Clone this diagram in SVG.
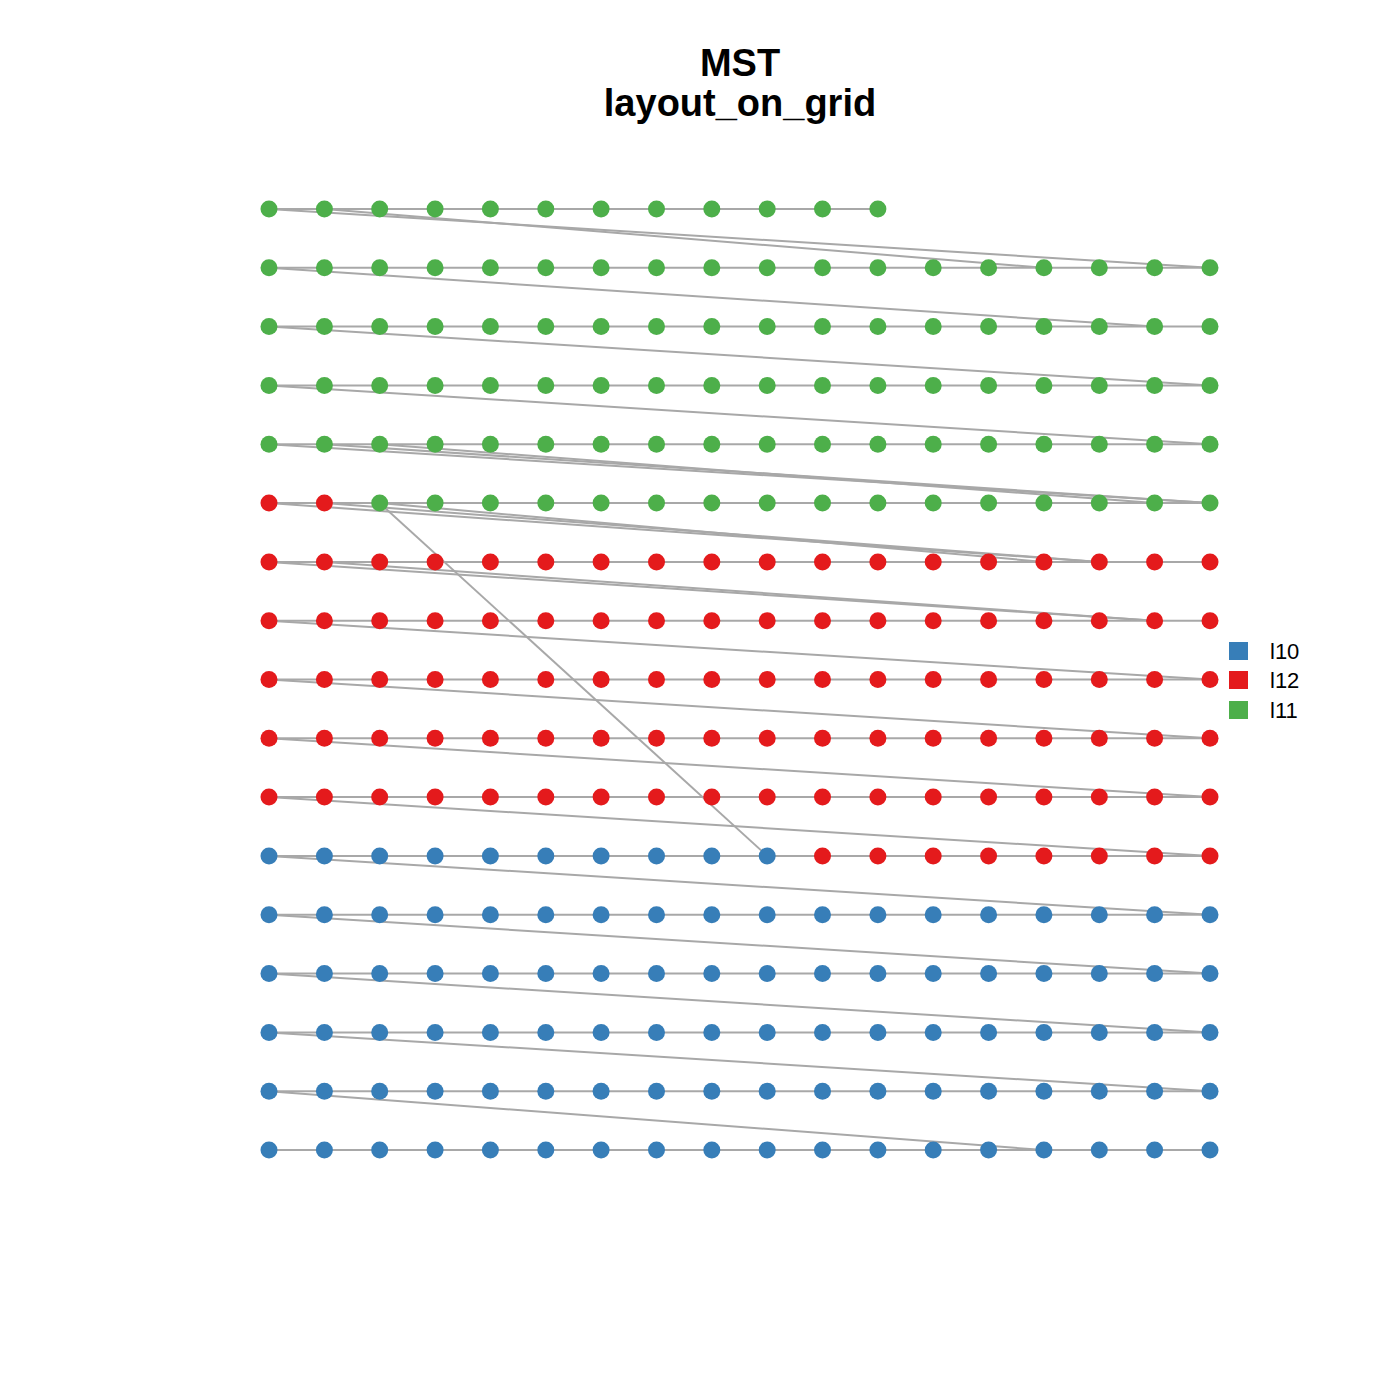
<svg xmlns="http://www.w3.org/2000/svg" width="1400" height="1400" viewBox="0 0 1400 1400">
<style>
.e{stroke:#A8A8A8;stroke-width:2;fill:none}
.g{fill:#4DAF4A}.r{fill:#E41A1C}.b{fill:#377EB8}
.t{font-family:"Liberation Sans",Arial,sans-serif;font-weight:bold;font-size:38px;text-anchor:middle;fill:#000}
.l{font-family:"Liberation Sans",Arial,sans-serif;font-size:22px;fill:#000}
</style>
<rect width="1400" height="1400" fill="#fff"/>
<text class="t" x="740" y="76">MST</text>
<text class="t" x="740" y="116">layout_on_grid</text>
<g id="connectors">
<line class="e" x1="269" y1="209" x2="877.9" y2="209"/>
<line class="e" x1="269" y1="267.8" x2="1210" y2="267.8"/>
<line class="e" x1="269" y1="326.6" x2="1210" y2="326.6"/>
<line class="e" x1="269" y1="385.4" x2="1210" y2="385.4"/>
<line class="e" x1="269" y1="444.3" x2="1210" y2="444.3"/>
<line class="e" x1="269" y1="503.1" x2="1210" y2="503.1"/>
<line class="e" x1="269" y1="561.9" x2="1210" y2="561.9"/>
<line class="e" x1="269" y1="620.7" x2="1210" y2="620.7"/>
<line class="e" x1="269" y1="679.5" x2="1210" y2="679.5"/>
<line class="e" x1="269" y1="738.3" x2="1210" y2="738.3"/>
<line class="e" x1="269" y1="797.1" x2="1210" y2="797.1"/>
<line class="e" x1="269" y1="855.9" x2="1210" y2="855.9"/>
<line class="e" x1="269" y1="914.8" x2="1210" y2="914.8"/>
<line class="e" x1="269" y1="973.6" x2="1210" y2="973.6"/>
<line class="e" x1="269" y1="1032.4" x2="1210" y2="1032.4"/>
<line class="e" x1="269" y1="1091.2" x2="1210" y2="1091.2"/>
<line class="e" x1="269" y1="1150" x2="1210" y2="1150"/>
<line class="e" x1="269" y1="209" x2="1210" y2="267.8"/>
<line class="e" x1="324.4" y1="209" x2="1043.9" y2="267.8"/>
<line class="e" x1="269" y1="267.8" x2="1154.6" y2="326.6"/>
<line class="e" x1="269" y1="326.6" x2="1210" y2="385.4"/>
<line class="e" x1="269" y1="385.4" x2="1210" y2="444.3"/>
<line class="e" x1="269" y1="444.3" x2="1210" y2="503.1"/>
<line class="e" x1="324.4" y1="444.3" x2="1210" y2="503.1"/>
<line class="e" x1="379.7" y1="444.3" x2="1154.6" y2="503.1"/>
<line class="e" x1="269" y1="503.1" x2="1099.3" y2="561.9"/>
<line class="e" x1="324.4" y1="503.1" x2="1099.3" y2="561.9"/>
<line class="e" x1="379.7" y1="503.1" x2="1043.9" y2="561.9"/>
<line class="e" x1="379.7" y1="503.1" x2="767.2" y2="855.9"/>
<line class="e" x1="269" y1="561.9" x2="1154.6" y2="620.7"/>
<line class="e" x1="324.4" y1="561.9" x2="1154.6" y2="620.7"/>
<line class="e" x1="269" y1="620.7" x2="1210" y2="679.5"/>
<line class="e" x1="269" y1="679.5" x2="1210" y2="738.3"/>
<line class="e" x1="269" y1="738.3" x2="1210" y2="797.1"/>
<line class="e" x1="269" y1="797.1" x2="1210" y2="855.9"/>
<line class="e" x1="269" y1="855.9" x2="1210" y2="914.8"/>
<line class="e" x1="269" y1="914.8" x2="1210" y2="973.6"/>
<line class="e" x1="269" y1="973.6" x2="1210" y2="1032.4"/>
<line class="e" x1="269" y1="1032.4" x2="1210" y2="1091.2"/>
<line class="e" x1="269" y1="1091.2" x2="1043.9" y2="1150"/>
</g>
<g id="nodes">
<g id="n0_0"><circle class="g" cx="269" cy="209" r="8.5"/></g>
<g id="n0_1"><circle class="g" cx="324.4" cy="209" r="8.5"/></g>
<g id="n0_2"><circle class="g" cx="379.7" cy="209" r="8.5"/></g>
<g id="n0_3"><circle class="g" cx="435.1" cy="209" r="8.5"/></g>
<g id="n0_4"><circle class="g" cx="490.4" cy="209" r="8.5"/></g>
<g id="n0_5"><circle class="g" cx="545.8" cy="209" r="8.5"/></g>
<g id="n0_6"><circle class="g" cx="601.1" cy="209" r="8.5"/></g>
<g id="n0_7"><circle class="g" cx="656.5" cy="209" r="8.5"/></g>
<g id="n0_8"><circle class="g" cx="711.8" cy="209" r="8.5"/></g>
<g id="n0_9"><circle class="g" cx="767.2" cy="209" r="8.5"/></g>
<g id="n0_10"><circle class="g" cx="822.5" cy="209" r="8.5"/></g>
<g id="n0_11"><circle class="g" cx="877.9" cy="209" r="8.5"/></g>
<g id="n1_0"><circle class="g" cx="269" cy="267.8" r="8.5"/></g>
<g id="n1_1"><circle class="g" cx="324.4" cy="267.8" r="8.5"/></g>
<g id="n1_2"><circle class="g" cx="379.7" cy="267.8" r="8.5"/></g>
<g id="n1_3"><circle class="g" cx="435.1" cy="267.8" r="8.5"/></g>
<g id="n1_4"><circle class="g" cx="490.4" cy="267.8" r="8.5"/></g>
<g id="n1_5"><circle class="g" cx="545.8" cy="267.8" r="8.5"/></g>
<g id="n1_6"><circle class="g" cx="601.1" cy="267.8" r="8.5"/></g>
<g id="n1_7"><circle class="g" cx="656.5" cy="267.8" r="8.5"/></g>
<g id="n1_8"><circle class="g" cx="711.8" cy="267.8" r="8.5"/></g>
<g id="n1_9"><circle class="g" cx="767.2" cy="267.8" r="8.5"/></g>
<g id="n1_10"><circle class="g" cx="822.5" cy="267.8" r="8.5"/></g>
<g id="n1_11"><circle class="g" cx="877.9" cy="267.8" r="8.5"/></g>
<g id="n1_12"><circle class="g" cx="933.2" cy="267.8" r="8.5"/></g>
<g id="n1_13"><circle class="g" cx="988.6" cy="267.8" r="8.5"/></g>
<g id="n1_14"><circle class="g" cx="1043.9" cy="267.8" r="8.5"/></g>
<g id="n1_15"><circle class="g" cx="1099.3" cy="267.8" r="8.5"/></g>
<g id="n1_16"><circle class="g" cx="1154.6" cy="267.8" r="8.5"/></g>
<g id="n1_17"><circle class="g" cx="1210" cy="267.8" r="8.5"/></g>
<g id="n2_0"><circle class="g" cx="269" cy="326.6" r="8.5"/></g>
<g id="n2_1"><circle class="g" cx="324.4" cy="326.6" r="8.5"/></g>
<g id="n2_2"><circle class="g" cx="379.7" cy="326.6" r="8.5"/></g>
<g id="n2_3"><circle class="g" cx="435.1" cy="326.6" r="8.5"/></g>
<g id="n2_4"><circle class="g" cx="490.4" cy="326.6" r="8.5"/></g>
<g id="n2_5"><circle class="g" cx="545.8" cy="326.6" r="8.5"/></g>
<g id="n2_6"><circle class="g" cx="601.1" cy="326.6" r="8.5"/></g>
<g id="n2_7"><circle class="g" cx="656.5" cy="326.6" r="8.5"/></g>
<g id="n2_8"><circle class="g" cx="711.8" cy="326.6" r="8.5"/></g>
<g id="n2_9"><circle class="g" cx="767.2" cy="326.6" r="8.5"/></g>
<g id="n2_10"><circle class="g" cx="822.5" cy="326.6" r="8.5"/></g>
<g id="n2_11"><circle class="g" cx="877.9" cy="326.6" r="8.5"/></g>
<g id="n2_12"><circle class="g" cx="933.2" cy="326.6" r="8.5"/></g>
<g id="n2_13"><circle class="g" cx="988.6" cy="326.6" r="8.5"/></g>
<g id="n2_14"><circle class="g" cx="1043.9" cy="326.6" r="8.5"/></g>
<g id="n2_15"><circle class="g" cx="1099.3" cy="326.6" r="8.5"/></g>
<g id="n2_16"><circle class="g" cx="1154.6" cy="326.6" r="8.5"/></g>
<g id="n2_17"><circle class="g" cx="1210" cy="326.6" r="8.5"/></g>
<g id="n3_0"><circle class="g" cx="269" cy="385.4" r="8.5"/></g>
<g id="n3_1"><circle class="g" cx="324.4" cy="385.4" r="8.5"/></g>
<g id="n3_2"><circle class="g" cx="379.7" cy="385.4" r="8.5"/></g>
<g id="n3_3"><circle class="g" cx="435.1" cy="385.4" r="8.5"/></g>
<g id="n3_4"><circle class="g" cx="490.4" cy="385.4" r="8.5"/></g>
<g id="n3_5"><circle class="g" cx="545.8" cy="385.4" r="8.5"/></g>
<g id="n3_6"><circle class="g" cx="601.1" cy="385.4" r="8.5"/></g>
<g id="n3_7"><circle class="g" cx="656.5" cy="385.4" r="8.5"/></g>
<g id="n3_8"><circle class="g" cx="711.8" cy="385.4" r="8.5"/></g>
<g id="n3_9"><circle class="g" cx="767.2" cy="385.4" r="8.5"/></g>
<g id="n3_10"><circle class="g" cx="822.5" cy="385.4" r="8.5"/></g>
<g id="n3_11"><circle class="g" cx="877.9" cy="385.4" r="8.5"/></g>
<g id="n3_12"><circle class="g" cx="933.2" cy="385.4" r="8.5"/></g>
<g id="n3_13"><circle class="g" cx="988.6" cy="385.4" r="8.5"/></g>
<g id="n3_14"><circle class="g" cx="1043.9" cy="385.4" r="8.5"/></g>
<g id="n3_15"><circle class="g" cx="1099.3" cy="385.4" r="8.5"/></g>
<g id="n3_16"><circle class="g" cx="1154.6" cy="385.4" r="8.5"/></g>
<g id="n3_17"><circle class="g" cx="1210" cy="385.4" r="8.5"/></g>
<g id="n4_0"><circle class="g" cx="269" cy="444.3" r="8.5"/></g>
<g id="n4_1"><circle class="g" cx="324.4" cy="444.3" r="8.5"/></g>
<g id="n4_2"><circle class="g" cx="379.7" cy="444.3" r="8.5"/></g>
<g id="n4_3"><circle class="g" cx="435.1" cy="444.3" r="8.5"/></g>
<g id="n4_4"><circle class="g" cx="490.4" cy="444.3" r="8.5"/></g>
<g id="n4_5"><circle class="g" cx="545.8" cy="444.3" r="8.5"/></g>
<g id="n4_6"><circle class="g" cx="601.1" cy="444.3" r="8.5"/></g>
<g id="n4_7"><circle class="g" cx="656.5" cy="444.3" r="8.5"/></g>
<g id="n4_8"><circle class="g" cx="711.8" cy="444.3" r="8.5"/></g>
<g id="n4_9"><circle class="g" cx="767.2" cy="444.3" r="8.5"/></g>
<g id="n4_10"><circle class="g" cx="822.5" cy="444.3" r="8.5"/></g>
<g id="n4_11"><circle class="g" cx="877.9" cy="444.3" r="8.5"/></g>
<g id="n4_12"><circle class="g" cx="933.2" cy="444.3" r="8.5"/></g>
<g id="n4_13"><circle class="g" cx="988.6" cy="444.3" r="8.5"/></g>
<g id="n4_14"><circle class="g" cx="1043.9" cy="444.3" r="8.5"/></g>
<g id="n4_15"><circle class="g" cx="1099.3" cy="444.3" r="8.5"/></g>
<g id="n4_16"><circle class="g" cx="1154.6" cy="444.3" r="8.5"/></g>
<g id="n4_17"><circle class="g" cx="1210" cy="444.3" r="8.5"/></g>
<g id="n5_0"><circle class="r" cx="269" cy="503.1" r="8.5"/></g>
<g id="n5_1"><circle class="r" cx="324.4" cy="503.1" r="8.5"/></g>
<g id="n5_2"><circle class="g" cx="379.7" cy="503.1" r="8.5"/></g>
<g id="n5_3"><circle class="g" cx="435.1" cy="503.1" r="8.5"/></g>
<g id="n5_4"><circle class="g" cx="490.4" cy="503.1" r="8.5"/></g>
<g id="n5_5"><circle class="g" cx="545.8" cy="503.1" r="8.5"/></g>
<g id="n5_6"><circle class="g" cx="601.1" cy="503.1" r="8.5"/></g>
<g id="n5_7"><circle class="g" cx="656.5" cy="503.1" r="8.5"/></g>
<g id="n5_8"><circle class="g" cx="711.8" cy="503.1" r="8.5"/></g>
<g id="n5_9"><circle class="g" cx="767.2" cy="503.1" r="8.5"/></g>
<g id="n5_10"><circle class="g" cx="822.5" cy="503.1" r="8.5"/></g>
<g id="n5_11"><circle class="g" cx="877.9" cy="503.1" r="8.5"/></g>
<g id="n5_12"><circle class="g" cx="933.2" cy="503.1" r="8.5"/></g>
<g id="n5_13"><circle class="g" cx="988.6" cy="503.1" r="8.5"/></g>
<g id="n5_14"><circle class="g" cx="1043.9" cy="503.1" r="8.5"/></g>
<g id="n5_15"><circle class="g" cx="1099.3" cy="503.1" r="8.5"/></g>
<g id="n5_16"><circle class="g" cx="1154.6" cy="503.1" r="8.5"/></g>
<g id="n5_17"><circle class="g" cx="1210" cy="503.1" r="8.5"/></g>
<g id="n6_0"><circle class="r" cx="269" cy="561.9" r="8.5"/></g>
<g id="n6_1"><circle class="r" cx="324.4" cy="561.9" r="8.5"/></g>
<g id="n6_2"><circle class="r" cx="379.7" cy="561.9" r="8.5"/></g>
<g id="n6_3"><circle class="r" cx="435.1" cy="561.9" r="8.5"/></g>
<g id="n6_4"><circle class="r" cx="490.4" cy="561.9" r="8.5"/></g>
<g id="n6_5"><circle class="r" cx="545.8" cy="561.9" r="8.5"/></g>
<g id="n6_6"><circle class="r" cx="601.1" cy="561.9" r="8.5"/></g>
<g id="n6_7"><circle class="r" cx="656.5" cy="561.9" r="8.5"/></g>
<g id="n6_8"><circle class="r" cx="711.8" cy="561.9" r="8.5"/></g>
<g id="n6_9"><circle class="r" cx="767.2" cy="561.9" r="8.5"/></g>
<g id="n6_10"><circle class="r" cx="822.5" cy="561.9" r="8.5"/></g>
<g id="n6_11"><circle class="r" cx="877.9" cy="561.9" r="8.5"/></g>
<g id="n6_12"><circle class="r" cx="933.2" cy="561.9" r="8.5"/></g>
<g id="n6_13"><circle class="r" cx="988.6" cy="561.9" r="8.5"/></g>
<g id="n6_14"><circle class="r" cx="1043.9" cy="561.9" r="8.5"/></g>
<g id="n6_15"><circle class="r" cx="1099.3" cy="561.9" r="8.5"/></g>
<g id="n6_16"><circle class="r" cx="1154.6" cy="561.9" r="8.5"/></g>
<g id="n6_17"><circle class="r" cx="1210" cy="561.9" r="8.5"/></g>
<g id="n7_0"><circle class="r" cx="269" cy="620.7" r="8.5"/></g>
<g id="n7_1"><circle class="r" cx="324.4" cy="620.7" r="8.5"/></g>
<g id="n7_2"><circle class="r" cx="379.7" cy="620.7" r="8.5"/></g>
<g id="n7_3"><circle class="r" cx="435.1" cy="620.7" r="8.5"/></g>
<g id="n7_4"><circle class="r" cx="490.4" cy="620.7" r="8.5"/></g>
<g id="n7_5"><circle class="r" cx="545.8" cy="620.7" r="8.5"/></g>
<g id="n7_6"><circle class="r" cx="601.1" cy="620.7" r="8.5"/></g>
<g id="n7_7"><circle class="r" cx="656.5" cy="620.7" r="8.5"/></g>
<g id="n7_8"><circle class="r" cx="711.8" cy="620.7" r="8.5"/></g>
<g id="n7_9"><circle class="r" cx="767.2" cy="620.7" r="8.5"/></g>
<g id="n7_10"><circle class="r" cx="822.5" cy="620.7" r="8.5"/></g>
<g id="n7_11"><circle class="r" cx="877.9" cy="620.7" r="8.5"/></g>
<g id="n7_12"><circle class="r" cx="933.2" cy="620.7" r="8.5"/></g>
<g id="n7_13"><circle class="r" cx="988.6" cy="620.7" r="8.5"/></g>
<g id="n7_14"><circle class="r" cx="1043.9" cy="620.7" r="8.5"/></g>
<g id="n7_15"><circle class="r" cx="1099.3" cy="620.7" r="8.5"/></g>
<g id="n7_16"><circle class="r" cx="1154.6" cy="620.7" r="8.5"/></g>
<g id="n7_17"><circle class="r" cx="1210" cy="620.7" r="8.5"/></g>
<g id="n8_0"><circle class="r" cx="269" cy="679.5" r="8.5"/></g>
<g id="n8_1"><circle class="r" cx="324.4" cy="679.5" r="8.5"/></g>
<g id="n8_2"><circle class="r" cx="379.7" cy="679.5" r="8.5"/></g>
<g id="n8_3"><circle class="r" cx="435.1" cy="679.5" r="8.5"/></g>
<g id="n8_4"><circle class="r" cx="490.4" cy="679.5" r="8.5"/></g>
<g id="n8_5"><circle class="r" cx="545.8" cy="679.5" r="8.5"/></g>
<g id="n8_6"><circle class="r" cx="601.1" cy="679.5" r="8.5"/></g>
<g id="n8_7"><circle class="r" cx="656.5" cy="679.5" r="8.5"/></g>
<g id="n8_8"><circle class="r" cx="711.8" cy="679.5" r="8.5"/></g>
<g id="n8_9"><circle class="r" cx="767.2" cy="679.5" r="8.5"/></g>
<g id="n8_10"><circle class="r" cx="822.5" cy="679.5" r="8.5"/></g>
<g id="n8_11"><circle class="r" cx="877.9" cy="679.5" r="8.5"/></g>
<g id="n8_12"><circle class="r" cx="933.2" cy="679.5" r="8.5"/></g>
<g id="n8_13"><circle class="r" cx="988.6" cy="679.5" r="8.5"/></g>
<g id="n8_14"><circle class="r" cx="1043.9" cy="679.5" r="8.5"/></g>
<g id="n8_15"><circle class="r" cx="1099.3" cy="679.5" r="8.5"/></g>
<g id="n8_16"><circle class="r" cx="1154.6" cy="679.5" r="8.5"/></g>
<g id="n8_17"><circle class="r" cx="1210" cy="679.5" r="8.5"/></g>
<g id="n9_0"><circle class="r" cx="269" cy="738.3" r="8.5"/></g>
<g id="n9_1"><circle class="r" cx="324.4" cy="738.3" r="8.5"/></g>
<g id="n9_2"><circle class="r" cx="379.7" cy="738.3" r="8.5"/></g>
<g id="n9_3"><circle class="r" cx="435.1" cy="738.3" r="8.5"/></g>
<g id="n9_4"><circle class="r" cx="490.4" cy="738.3" r="8.5"/></g>
<g id="n9_5"><circle class="r" cx="545.8" cy="738.3" r="8.5"/></g>
<g id="n9_6"><circle class="r" cx="601.1" cy="738.3" r="8.5"/></g>
<g id="n9_7"><circle class="r" cx="656.5" cy="738.3" r="8.5"/></g>
<g id="n9_8"><circle class="r" cx="711.8" cy="738.3" r="8.5"/></g>
<g id="n9_9"><circle class="r" cx="767.2" cy="738.3" r="8.5"/></g>
<g id="n9_10"><circle class="r" cx="822.5" cy="738.3" r="8.5"/></g>
<g id="n9_11"><circle class="r" cx="877.9" cy="738.3" r="8.5"/></g>
<g id="n9_12"><circle class="r" cx="933.2" cy="738.3" r="8.5"/></g>
<g id="n9_13"><circle class="r" cx="988.6" cy="738.3" r="8.5"/></g>
<g id="n9_14"><circle class="r" cx="1043.9" cy="738.3" r="8.5"/></g>
<g id="n9_15"><circle class="r" cx="1099.3" cy="738.3" r="8.5"/></g>
<g id="n9_16"><circle class="r" cx="1154.6" cy="738.3" r="8.5"/></g>
<g id="n9_17"><circle class="r" cx="1210" cy="738.3" r="8.5"/></g>
<g id="n10_0"><circle class="r" cx="269" cy="797.1" r="8.5"/></g>
<g id="n10_1"><circle class="r" cx="324.4" cy="797.1" r="8.5"/></g>
<g id="n10_2"><circle class="r" cx="379.7" cy="797.1" r="8.5"/></g>
<g id="n10_3"><circle class="r" cx="435.1" cy="797.1" r="8.5"/></g>
<g id="n10_4"><circle class="r" cx="490.4" cy="797.1" r="8.5"/></g>
<g id="n10_5"><circle class="r" cx="545.8" cy="797.1" r="8.5"/></g>
<g id="n10_6"><circle class="r" cx="601.1" cy="797.1" r="8.5"/></g>
<g id="n10_7"><circle class="r" cx="656.5" cy="797.1" r="8.5"/></g>
<g id="n10_8"><circle class="r" cx="711.8" cy="797.1" r="8.5"/></g>
<g id="n10_9"><circle class="r" cx="767.2" cy="797.1" r="8.5"/></g>
<g id="n10_10"><circle class="r" cx="822.5" cy="797.1" r="8.5"/></g>
<g id="n10_11"><circle class="r" cx="877.9" cy="797.1" r="8.5"/></g>
<g id="n10_12"><circle class="r" cx="933.2" cy="797.1" r="8.5"/></g>
<g id="n10_13"><circle class="r" cx="988.6" cy="797.1" r="8.5"/></g>
<g id="n10_14"><circle class="r" cx="1043.9" cy="797.1" r="8.5"/></g>
<g id="n10_15"><circle class="r" cx="1099.3" cy="797.1" r="8.5"/></g>
<g id="n10_16"><circle class="r" cx="1154.6" cy="797.1" r="8.5"/></g>
<g id="n10_17"><circle class="r" cx="1210" cy="797.1" r="8.5"/></g>
<g id="n11_0"><circle class="b" cx="269" cy="855.9" r="8.5"/></g>
<g id="n11_1"><circle class="b" cx="324.4" cy="855.9" r="8.5"/></g>
<g id="n11_2"><circle class="b" cx="379.7" cy="855.9" r="8.5"/></g>
<g id="n11_3"><circle class="b" cx="435.1" cy="855.9" r="8.5"/></g>
<g id="n11_4"><circle class="b" cx="490.4" cy="855.9" r="8.5"/></g>
<g id="n11_5"><circle class="b" cx="545.8" cy="855.9" r="8.5"/></g>
<g id="n11_6"><circle class="b" cx="601.1" cy="855.9" r="8.5"/></g>
<g id="n11_7"><circle class="b" cx="656.5" cy="855.9" r="8.5"/></g>
<g id="n11_8"><circle class="b" cx="711.8" cy="855.9" r="8.5"/></g>
<g id="n11_9"><circle class="b" cx="767.2" cy="855.9" r="8.5"/></g>
<g id="n11_10"><circle class="r" cx="822.5" cy="855.9" r="8.5"/></g>
<g id="n11_11"><circle class="r" cx="877.9" cy="855.9" r="8.5"/></g>
<g id="n11_12"><circle class="r" cx="933.2" cy="855.9" r="8.5"/></g>
<g id="n11_13"><circle class="r" cx="988.6" cy="855.9" r="8.5"/></g>
<g id="n11_14"><circle class="r" cx="1043.9" cy="855.9" r="8.5"/></g>
<g id="n11_15"><circle class="r" cx="1099.3" cy="855.9" r="8.5"/></g>
<g id="n11_16"><circle class="r" cx="1154.6" cy="855.9" r="8.5"/></g>
<g id="n11_17"><circle class="r" cx="1210" cy="855.9" r="8.5"/></g>
<g id="n12_0"><circle class="b" cx="269" cy="914.8" r="8.5"/></g>
<g id="n12_1"><circle class="b" cx="324.4" cy="914.8" r="8.5"/></g>
<g id="n12_2"><circle class="b" cx="379.7" cy="914.8" r="8.5"/></g>
<g id="n12_3"><circle class="b" cx="435.1" cy="914.8" r="8.5"/></g>
<g id="n12_4"><circle class="b" cx="490.4" cy="914.8" r="8.5"/></g>
<g id="n12_5"><circle class="b" cx="545.8" cy="914.8" r="8.5"/></g>
<g id="n12_6"><circle class="b" cx="601.1" cy="914.8" r="8.5"/></g>
<g id="n12_7"><circle class="b" cx="656.5" cy="914.8" r="8.5"/></g>
<g id="n12_8"><circle class="b" cx="711.8" cy="914.8" r="8.5"/></g>
<g id="n12_9"><circle class="b" cx="767.2" cy="914.8" r="8.5"/></g>
<g id="n12_10"><circle class="b" cx="822.5" cy="914.8" r="8.5"/></g>
<g id="n12_11"><circle class="b" cx="877.9" cy="914.8" r="8.5"/></g>
<g id="n12_12"><circle class="b" cx="933.2" cy="914.8" r="8.5"/></g>
<g id="n12_13"><circle class="b" cx="988.6" cy="914.8" r="8.5"/></g>
<g id="n12_14"><circle class="b" cx="1043.9" cy="914.8" r="8.5"/></g>
<g id="n12_15"><circle class="b" cx="1099.3" cy="914.8" r="8.5"/></g>
<g id="n12_16"><circle class="b" cx="1154.6" cy="914.8" r="8.5"/></g>
<g id="n12_17"><circle class="b" cx="1210" cy="914.8" r="8.5"/></g>
<g id="n13_0"><circle class="b" cx="269" cy="973.6" r="8.5"/></g>
<g id="n13_1"><circle class="b" cx="324.4" cy="973.6" r="8.5"/></g>
<g id="n13_2"><circle class="b" cx="379.7" cy="973.6" r="8.5"/></g>
<g id="n13_3"><circle class="b" cx="435.1" cy="973.6" r="8.5"/></g>
<g id="n13_4"><circle class="b" cx="490.4" cy="973.6" r="8.5"/></g>
<g id="n13_5"><circle class="b" cx="545.8" cy="973.6" r="8.5"/></g>
<g id="n13_6"><circle class="b" cx="601.1" cy="973.6" r="8.5"/></g>
<g id="n13_7"><circle class="b" cx="656.5" cy="973.6" r="8.5"/></g>
<g id="n13_8"><circle class="b" cx="711.8" cy="973.6" r="8.5"/></g>
<g id="n13_9"><circle class="b" cx="767.2" cy="973.6" r="8.5"/></g>
<g id="n13_10"><circle class="b" cx="822.5" cy="973.6" r="8.5"/></g>
<g id="n13_11"><circle class="b" cx="877.9" cy="973.6" r="8.5"/></g>
<g id="n13_12"><circle class="b" cx="933.2" cy="973.6" r="8.5"/></g>
<g id="n13_13"><circle class="b" cx="988.6" cy="973.6" r="8.5"/></g>
<g id="n13_14"><circle class="b" cx="1043.9" cy="973.6" r="8.5"/></g>
<g id="n13_15"><circle class="b" cx="1099.3" cy="973.6" r="8.5"/></g>
<g id="n13_16"><circle class="b" cx="1154.6" cy="973.6" r="8.5"/></g>
<g id="n13_17"><circle class="b" cx="1210" cy="973.6" r="8.5"/></g>
<g id="n14_0"><circle class="b" cx="269" cy="1032.4" r="8.5"/></g>
<g id="n14_1"><circle class="b" cx="324.4" cy="1032.4" r="8.5"/></g>
<g id="n14_2"><circle class="b" cx="379.7" cy="1032.4" r="8.5"/></g>
<g id="n14_3"><circle class="b" cx="435.1" cy="1032.4" r="8.5"/></g>
<g id="n14_4"><circle class="b" cx="490.4" cy="1032.4" r="8.5"/></g>
<g id="n14_5"><circle class="b" cx="545.8" cy="1032.4" r="8.5"/></g>
<g id="n14_6"><circle class="b" cx="601.1" cy="1032.4" r="8.5"/></g>
<g id="n14_7"><circle class="b" cx="656.5" cy="1032.4" r="8.5"/></g>
<g id="n14_8"><circle class="b" cx="711.8" cy="1032.4" r="8.5"/></g>
<g id="n14_9"><circle class="b" cx="767.2" cy="1032.4" r="8.5"/></g>
<g id="n14_10"><circle class="b" cx="822.5" cy="1032.4" r="8.5"/></g>
<g id="n14_11"><circle class="b" cx="877.9" cy="1032.4" r="8.5"/></g>
<g id="n14_12"><circle class="b" cx="933.2" cy="1032.4" r="8.5"/></g>
<g id="n14_13"><circle class="b" cx="988.6" cy="1032.4" r="8.5"/></g>
<g id="n14_14"><circle class="b" cx="1043.9" cy="1032.4" r="8.5"/></g>
<g id="n14_15"><circle class="b" cx="1099.3" cy="1032.4" r="8.5"/></g>
<g id="n14_16"><circle class="b" cx="1154.6" cy="1032.4" r="8.5"/></g>
<g id="n14_17"><circle class="b" cx="1210" cy="1032.4" r="8.5"/></g>
<g id="n15_0"><circle class="b" cx="269" cy="1091.2" r="8.5"/></g>
<g id="n15_1"><circle class="b" cx="324.4" cy="1091.2" r="8.5"/></g>
<g id="n15_2"><circle class="b" cx="379.7" cy="1091.2" r="8.5"/></g>
<g id="n15_3"><circle class="b" cx="435.1" cy="1091.2" r="8.5"/></g>
<g id="n15_4"><circle class="b" cx="490.4" cy="1091.2" r="8.5"/></g>
<g id="n15_5"><circle class="b" cx="545.8" cy="1091.2" r="8.5"/></g>
<g id="n15_6"><circle class="b" cx="601.1" cy="1091.2" r="8.5"/></g>
<g id="n15_7"><circle class="b" cx="656.5" cy="1091.2" r="8.5"/></g>
<g id="n15_8"><circle class="b" cx="711.8" cy="1091.2" r="8.5"/></g>
<g id="n15_9"><circle class="b" cx="767.2" cy="1091.2" r="8.5"/></g>
<g id="n15_10"><circle class="b" cx="822.5" cy="1091.2" r="8.5"/></g>
<g id="n15_11"><circle class="b" cx="877.9" cy="1091.2" r="8.5"/></g>
<g id="n15_12"><circle class="b" cx="933.2" cy="1091.2" r="8.5"/></g>
<g id="n15_13"><circle class="b" cx="988.6" cy="1091.2" r="8.5"/></g>
<g id="n15_14"><circle class="b" cx="1043.9" cy="1091.2" r="8.5"/></g>
<g id="n15_15"><circle class="b" cx="1099.3" cy="1091.2" r="8.5"/></g>
<g id="n15_16"><circle class="b" cx="1154.6" cy="1091.2" r="8.5"/></g>
<g id="n15_17"><circle class="b" cx="1210" cy="1091.2" r="8.5"/></g>
<g id="n16_0"><circle class="b" cx="269" cy="1150" r="8.5"/></g>
<g id="n16_1"><circle class="b" cx="324.4" cy="1150" r="8.5"/></g>
<g id="n16_2"><circle class="b" cx="379.7" cy="1150" r="8.5"/></g>
<g id="n16_3"><circle class="b" cx="435.1" cy="1150" r="8.5"/></g>
<g id="n16_4"><circle class="b" cx="490.4" cy="1150" r="8.5"/></g>
<g id="n16_5"><circle class="b" cx="545.8" cy="1150" r="8.5"/></g>
<g id="n16_6"><circle class="b" cx="601.1" cy="1150" r="8.5"/></g>
<g id="n16_7"><circle class="b" cx="656.5" cy="1150" r="8.5"/></g>
<g id="n16_8"><circle class="b" cx="711.8" cy="1150" r="8.5"/></g>
<g id="n16_9"><circle class="b" cx="767.2" cy="1150" r="8.5"/></g>
<g id="n16_10"><circle class="b" cx="822.5" cy="1150" r="8.5"/></g>
<g id="n16_11"><circle class="b" cx="877.9" cy="1150" r="8.5"/></g>
<g id="n16_12"><circle class="b" cx="933.2" cy="1150" r="8.5"/></g>
<g id="n16_13"><circle class="b" cx="988.6" cy="1150" r="8.5"/></g>
<g id="n16_14"><circle class="b" cx="1043.9" cy="1150" r="8.5"/></g>
<g id="n16_15"><circle class="b" cx="1099.3" cy="1150" r="8.5"/></g>
<g id="n16_16"><circle class="b" cx="1154.6" cy="1150" r="8.5"/></g>
<g id="n16_17"><circle class="b" cx="1210" cy="1150" r="8.5"/></g>
</g>
<g id="legend">
<rect class="b" x="1229" y="642" width="19" height="18"/>
<rect class="r" x="1229" y="671" width="19" height="18"/>
<rect class="g" x="1229" y="701" width="19" height="18"/>
<text class="l" x="1270" y="659">l10</text>
<text class="l" x="1270" y="688">l12</text>
<text class="l" x="1270" y="718">l11</text>
</g>
</svg>
